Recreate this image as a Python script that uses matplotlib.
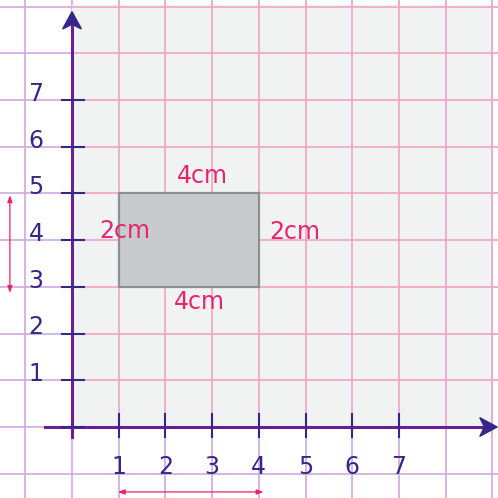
import matplotlib.pyplot as plt
import matplotlib.patches as patches

# Data
x_ticks = [1, 2, 3, 4, 5, 6, 7]
y_ticks = [1, 2, 3, 4, 5, 6, 7]
grid_pos = list(range(-1, 10))
rect_left, rect_right = 1, 4
rect_bottom, rect_top = 3, 5
side_labels = ['4cm', '4cm', '2cm', '2cm']

# Colours
navy = '#33288a'
axis_purple = '#6a1f96'
pink = '#e8246e'
grid_out = '#cfa9dc'
grid_in = '#f4a3c6'
panel = '#f1f2f2'
font = 'DejaVu Sans'

fig = plt.figure(figsize=(4.98, 4.98), dpi=100)
ax = fig.add_axes([0, 0, 1, 1])
ax.set_xlim(-1.542, 9.12)
ax.set_ylim(-1.52, 9.14)
ax.axis('off')

# outer grid (purple)
for g in grid_pos:
    ax.axvline(g, color=grid_out, lw=1.2, zorder=0)
    ax.axhline(g, color=grid_out, lw=1.2, zorder=0)

# paper panel
ax.add_patch(patches.Rectangle((0, 0), 9, 9.03, facecolor=panel, edgecolor='none', zorder=1))

# inner grid (pink)
for g in range(1, 10):
    ax.plot([g, g], [0, 9.03], color=grid_in, lw=1.2, zorder=2)
    ax.plot([0, 9], [g, g], color=grid_in, lw=1.2, zorder=2)

# rectangle
ax.add_patch(patches.Rectangle((rect_left, rect_bottom), rect_right - rect_left,
                               rect_top - rect_bottom, facecolor='#c8cbcb',
                               edgecolor='#8a918f', lw=1.6, zorder=3))

# axes lines with notched arrow heads
ax.plot([0, 0], [-0.22, 8.7], color=axis_purple, lw=2.2, zorder=5)
ax.plot([-0.58, 8.9], [0, 0], color=axis_purple, lw=2.2, zorder=5)
ax.add_patch(patches.Polygon([(0, 8.89), (-0.2, 8.52), (0, 8.62), (0.2, 8.52)],
                             closed=True, color=navy, zorder=6))
ax.add_patch(patches.Polygon([(9.1, 0), (8.73, 0.2), (8.83, 0), (8.73, -0.2)],
                             closed=True, color=navy, zorder=6))

# tick marks and labels
for t in y_ticks:
    ax.plot([-0.21, 0.26], [t, t], color=navy, lw=1.5, zorder=6)
    ax.text(-0.77, t - 0.02, str(t), color=navy, fontsize=17, family=font,
            ha='center', va='baseline', zorder=6)
ax.plot([-0.21, 0.26], [0, 0], color=navy, lw=1.5, zorder=6)
for t in x_ticks:
    ax.plot([t, t], [-0.21, 0.28], color=navy, lw=1.5, zorder=6)
    ax.text(t, -0.85, str(t), color=navy, fontsize=17, family=font,
            ha='center', va='center', zorder=6)

# side labels
cx = (rect_left + rect_right) / 2
cy = (rect_bottom + rect_top) / 2
ax.text(cx + 0.3, rect_top + 0.38, side_labels[0], color=pink, fontsize=17,
        family=font, ha='center', va='center', zorder=7)
ax.text(cx + 0.23, rect_bottom - 0.33, side_labels[1], color=pink, fontsize=17,
        family=font, ha='center', va='center', zorder=7)
ax.text(rect_left + 0.12, cy + 0.2, side_labels[2], color=pink, fontsize=17,
        family=font, ha='center', va='center', zorder=7)
ax.text(rect_right + 0.77, cy + 0.17, side_labels[3], color=pink, fontsize=17,
        family=font, ha='center', va='center', zorder=7)

# dimension arrows
ax.annotate('', xy=(-1.33, 4.96), xytext=(-1.33, 2.87),
            arrowprops=dict(arrowstyle='<|-|>,head_length=0.4,head_width=0.15',
                            color=pink, lw=0.9, shrinkA=0, shrinkB=0), zorder=7)
ax.annotate('', xy=(0.98, -1.39), xytext=(4.1, -1.39),
            arrowprops=dict(arrowstyle='<|-|>,head_length=0.4,head_width=0.15',
                            color=pink, lw=0.9, shrinkA=0, shrinkB=0), zorder=7)

fig.savefig('out.png', dpi=100)
plt.close(fig)
